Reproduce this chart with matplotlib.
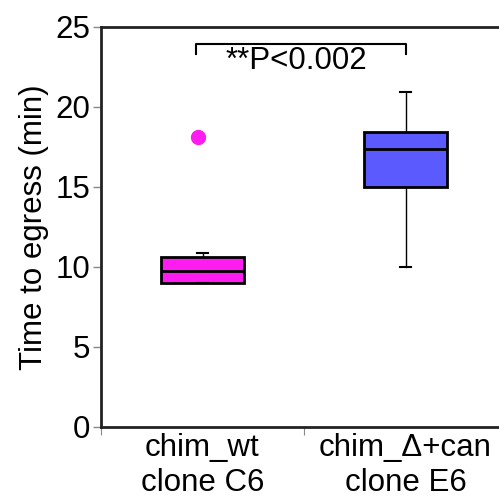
import matplotlib
matplotlib.use("Agg")
import matplotlib.pyplot as plt

plt.rcParams['font.family'] = ['Liberation Sans', 'DejaVu Sans']

labels = ["chim_wt\nclone C6", "chim_\u0394+can\nclone E6"]
q1 = [9.0, 15.0]
med = [9.75, 17.35]
q3 = [10.6, 18.45]
whislo = [9.0, 10.0]
whishi = [10.9, 20.95]
fliers = [[18.1], []]
colors = ["#ff1cf0", "#5a5aff"]
p_text = "**P<0.002"

stats = []
for i in range(2):
    stats.append(dict(q1=q1[i], med=med[i], q3=q3[i], whislo=whislo[i],
                      whishi=whishi[i], fliers=fliers[i]))

fig = plt.figure(figsize=(4.99, 4.97), dpi=100)
ax = fig.add_axes([101 / 499, 70 / 497, 406 / 499, 400 / 497])

bp = ax.bxp(stats, positions=[0.5, 1.5], widths=0.405, patch_artist=True,
            showfliers=True,
            boxprops=dict(linewidth=2, edgecolor="black"),
            medianprops=dict(color="black", linewidth=2),
            whiskerprops=dict(color="black", linewidth=1),
            capprops=dict(color="black", linewidth=1.5),
            capwidths=0.05)
for patch, c in zip(bp["boxes"], colors):
    patch.set_facecolor(c)
for fl, c in zip(bp["fliers"], colors):
    fl.set(marker="o", markerfacecolor=c, markeredgecolor=c, markersize=10)
    fl.set_xdata([0.48])

fs = 22.5
ax.set_xlim(0, 2)
ax.set_ylim(0, 25)
ax.set_yticks([0, 5, 10, 15, 20, 25])
ax.tick_params(axis="y", labelsize=fs, length=6, width=1, color="#888888",
               direction="out", pad=2)
ax.set_xticks([0, 1, 2])
ax.set_xticklabels([])
ax.set_xticks([0.5, 1.5], minor=True)
ax.set_xticklabels(labels, minor=True, fontsize=fs, linespacing=1.25)
ax.tick_params(axis="x", which="major", length=6, color="#888888")
ax.tick_params(axis="x", which="minor", length=0, pad=4)
ax.set_ylabel("Time to egress (min)", fontsize=fs, labelpad=4)

ax.spines["right"].set_visible(False)
for s in ["left", "top", "bottom"]:
    ax.spines[s].set_linewidth(2)
    ax.spines[s].set_color("#222222")

# significance bracket
ax.plot([0.47, 0.47, 1.5, 1.5], [23.3, 23.95, 23.95, 23.3], color="black", lw=1.5)
ax.text(0.965, 22.85, p_text, ha="center", va="center", fontsize=fs)

fig.savefig("out.png", dpi=100)
